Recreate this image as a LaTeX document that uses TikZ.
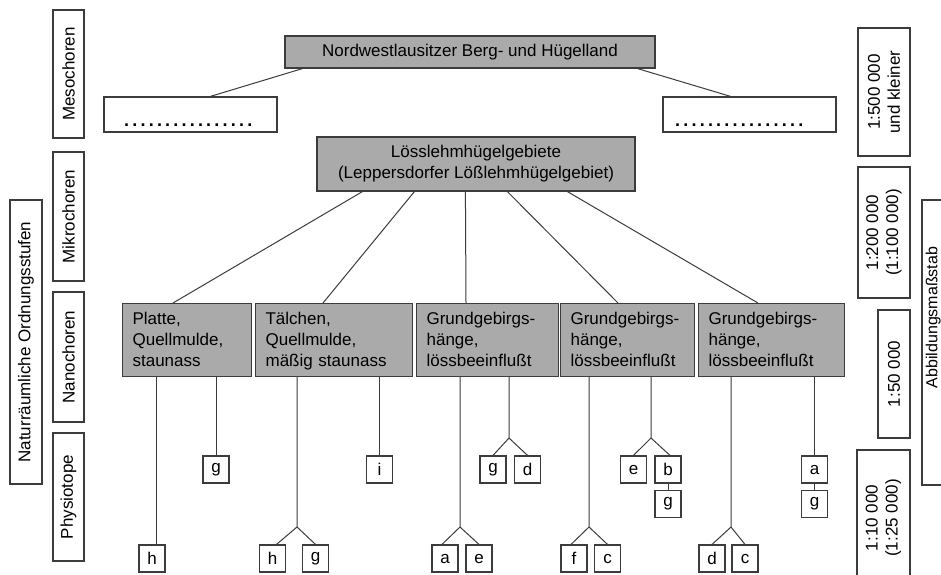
\documentclass[tikz,border=0pt]{standalone}
\usepackage{fontspec}
\setmainfont{Liberation Sans}
\definecolor{boxgray}{RGB}{170,170,170}
\definecolor{bordc}{RGB}{60,60,60}
\definecolor{connc}{RGB}{60,60,60}
\newcommand\dd{.\kern3.2pt}
\newcommand\dotrow{\dd\dd\dd\dd\dd\dd\dd\dd\dd\dd\dd\dd\dd\dd\dd.}
\newcommand\topstrut{\rule{0pt}{17pt}}
\begin{document}
\begin{tikzpicture}[x=1pt,y=-1pt,
  font=\fontsize{17}{21}\selectfont,
  box/.style={draw=bordc, line width=1.2pt, inner sep=0pt},
  gbox/.style={box, fill=boxgray},
  vbox/.style={box, rotate=90, align=center, font=\fontsize{17}{20}\selectfont},
  nbox/.style={gbox, minimum height=73pt, inner xsep=10pt, inner ysep=0pt, align=left, anchor=north west},
  lbox/.style={box, minimum width=26pt, minimum height=27pt},
  conn/.style={draw=connc, line width=1pt}]
\clip (0,0) rectangle (941,574);
\fill[white] (0,0) rectangle (941,574);

% left column
\node[vbox, minimum width=284pt, minimum height=32pt] (nat) at (26,342) {Naturräumliche Ordnungsstufen};
\node[vbox, minimum width=128pt, minimum height=31pt] (meso) at (68.5,74) {Mesochoren};
\node[vbox, minimum width=129pt, minimum height=31pt] (mikro) at (68.5,216.5) {Mikrochoren};
\node[vbox, minimum width=130pt, minimum height=31pt] (nano) at (68.5,357) {Nanochoren};
\node[vbox, minimum width=128pt, minimum height=31pt] (phys) at (68.5,497) {Physiotope};

% right column
\node[vbox, minimum width=128pt, minimum height=52pt] (s500) at (884,92) {1:500 000\\und kleiner};
\node[vbox, minimum width=131pt, minimum height=52pt] (s200) at (884,232.5) {1:200 000\\(1:100 000)};
\node[vbox, minimum width=128pt, minimum height=32pt] (s50) at (894,374) {1:50 000};
\node[vbox, minimum width=136pt, minimum height=53pt] (s10) at (883.5,518) {1:10 000\\(1:25 000)};
\node[box, rotate=90, minimum width=285pt, minimum height=60pt] (abb) at (952,342.5) {};
\node[rotate=90, anchor=north, inner sep=0pt, font=\fontsize{16}{19}\selectfont] (abbt) at (925.5,317.5) {Abbildungsmaßstab};

% top levels
\node[gbox, minimum width=370pt, minimum height=32pt] (TB) at (470,52) {Nordwestlausitzer Berg- und Hügelland};
\node[box, minimum width=173pt, minimum height=35pt] (DL) at (190.5,114.5) {};
\node[box, minimum width=173pt, minimum height=35pt] (DR) at (749.5,114.5) {};
\node[anchor=base west, inner sep=0pt, font=\fontsize{18}{21}\selectfont\bfseries] (DLt) at (124,126.5) {\dotrow};
\node[anchor=base west, inner sep=0pt, font=\fontsize{18}{21}\selectfont\bfseries] (DRt) at (675,126.5) {\dotrow};
\node[gbox, minimum width=318pt, minimum height=54pt, align=center] (LB) at (476,164)
  {Lösslehmhügelgebiete\\(Leppersdorfer Lößlehmhügelgebiet)};

\draw[conn] ([xshift=18pt]TB.south west) -- ([xshift=107pt]DL.north west);
\draw[conn] ([xshift=-18pt]TB.south east) -- ([xshift=-106pt]DR.north east);

% nano boxes
\node[nbox, text width=109pt] (N1) at (122,303) {\topstrut Platte,\\Quellmulde,\\staunass\strut};
\node[nbox, text width=137pt] (N2) at (255,303) {\topstrut Tälchen,\\Quellmulde,\\mäßig staunass\strut};
\node[nbox, text width=122pt] (N3) at (416,303) {\topstrut Grundgebirgs-\\hänge,\\lössbeeinflußt\strut};
\node[nbox, text width=114pt] (N4) at (560,303) {\topstrut Grundgebirgs-\\hänge,\\lössbeeinflußt\strut};
\node[nbox, text width=126pt] (N5) at (698,303) {\topstrut Grundgebirgs-\\hänge,\\lössbeeinflußt\strut};

\draw[conn] ([xshift=46pt]LB.south west) -- ([xshift=51pt]N1.north west);
\draw[conn] ([xshift=98pt]LB.south west) -- ([xshift=68pt]N2.north west);
\draw[conn] ([xshift=149pt]LB.south west) -- ([xshift=50pt]N3.north west);
\draw[conn] ([xshift=191pt]LB.south west) -- ([xshift=58pt]N4.north west);
\draw[conn] ([xshift=251pt]LB.south west) -- ([xshift=60pt]N5.north west);

% letter boxes
\node[lbox] (g1) at (216,469.5) {g};
\node[lbox] (i2) at (379.5,469.5) {i};
\node[lbox] (g3) at (493,469.5) {g};
\node[lbox] (d3) at (527.5,469.5) {d};
\node[lbox] (e4) at (633.5,469.5) {e};
\node[lbox] (b4) at (668,469.5) {b};
\node[lbox] (a5) at (814.5,469.5) {a};
\node[lbox] (g4) at (668,504) {g};
\node[lbox] (g5) at (814.5,504) {g};
\node[lbox] (h1) at (152,558.5) {h};
\node[lbox] (h2) at (272.5,558.5) {h};
\node[lbox] (g2) at (315.5,558.5) {g};
\node[lbox] (a3) at (445,558.5) {a};
\node[lbox] (e3) at (479,558.5) {e};
\node[lbox] (f4) at (574,558.5) {f};
\node[lbox] (c4) at (607.5,558.5) {c};
\node[lbox] (d5) at (712,558.5) {d};
\node[lbox] (c5) at (745,558.5) {c};

% branch points
\coordinate (p2) at (297,527);
\coordinate (p3) at (460,527);
\coordinate (q3) at (509,438);
\coordinate (p4) at (589,527);
\coordinate (q4) at (651,438);
\coordinate (p5) at (731,527);

\draw[conn] ([xshift=4pt]h1.north) -- ([xshift=4pt]h1.north |- N1.south);
\draw[conn] (g1.north) -- (g1.north |- N1.south);
\draw[conn] (N2.south -| p2) -- (p2) -- ([xshift=4pt]h2.north);
\draw[conn] (p2) -- (g2.north);
\draw[conn] (i2.north) -- (i2.north |- N2.south);
\draw[conn] (N3.south -| p3) -- (p3) -- ([xshift=-3pt]a3.north);
\draw[conn] (p3) -- (e3.north);
\draw[conn] (N3.south -| q3) -- (q3) -- (g3.north);
\draw[conn] (q3) -- (d3.north);
\draw[conn] (N4.south -| p4) -- (p4) -- ([xshift=-3pt]f4.north);
\draw[conn] (p4) -- (c4.north);
\draw[conn] (N4.south -| q4) -- (q4) -- (e4.north);
\draw[conn] (q4) -- ([xshift=2pt]b4.north);
\draw[conn] (b4.south) -- (g4.north);
\draw[conn] (N5.south -| p5) -- (p5) -- (d5.north);
\draw[conn] (p5) -- (c5.north);
\draw[conn] (a5.north) -- (a5.north |- N5.south);
\draw[conn] (a5.south) -- (g5.north);
\end{tikzpicture}
\end{document}
